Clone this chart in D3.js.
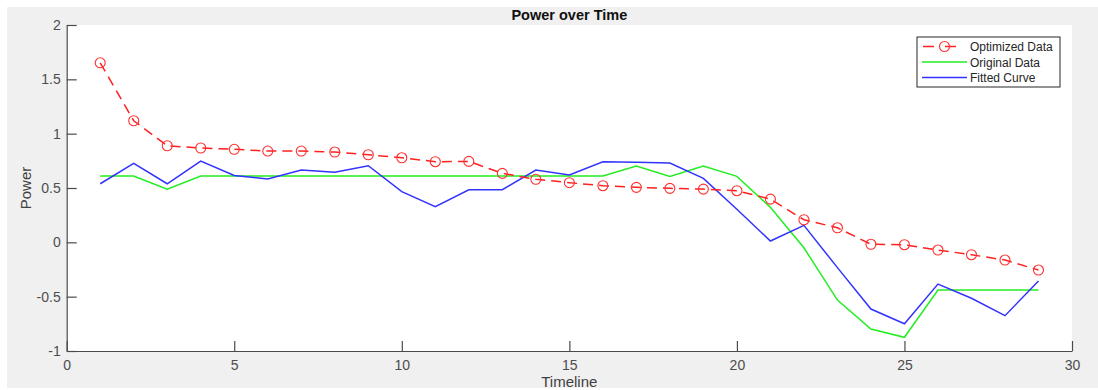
<!DOCTYPE html>
<html>
<head>
<meta charset="utf-8">
<script src="https://cdn.jsdelivr.net/npm/d3@7"></script>
<style>
  html, body { margin: 0; padding: 0; background: #fff; }
  svg { display: block; font-family: "Liberation Sans", Arial, sans-serif; }
</style>
</head>
<body>
<div id="chart"></div>
<script>
const timeline = d3.range(1, 30);
const optimized = [1.652, 1.119, 0.889, 0.868, 0.856, 0.840, 0.840, 0.831, 0.806, 0.778,
  0.742, 0.745, 0.635, 0.580, 0.549, 0.521, 0.506, 0.497, 0.490, 0.475,
  0.398, 0.208, 0.134, -0.018, -0.022, -0.071, -0.114, -0.163, -0.255];
const original = [0.61, 0.61, 0.488, 0.61, 0.61, 0.61, 0.61, 0.61, 0.61, 0.61,
  0.61, 0.61, 0.61, 0.61, 0.61, 0.61, 0.702, 0.607, 0.702, 0.607,
  0.322, -0.05, -0.531, -0.798, -0.874, -0.439, -0.439, -0.439, -0.439];
const fitted = [0.539, 0.727, 0.539, 0.748, 0.616, 0.582, 0.665, 0.644, 0.705, 0.466,
  0.328, 0.484, 0.484, 0.665, 0.619, 0.742, 0.736, 0.730, 0.589, 0.304,
  0.012, 0.156, -0.233, -0.614, -0.749, -0.384, -0.515, -0.675, -0.356];
const xTicks = [0, 5, 10, 15, 20, 25, 30];
const yTicks = [-1, -0.5, 0, 0.5, 1, 1.5, 2];
const seriesNames = ['Optimized Data', 'Original Data', 'Fitted Curve'];

const width = 1098, height = 390;
const margin = { left: 66.7, right: 1072, top: 25, bottom: 351 };

const svg = d3.select('#chart').append('svg')
  .attr('width', width)
  .attr('height', height);

// figure background
svg.append('rect')
  .attr('x', 7).attr('y', 7)
  .attr('width', width - 7).attr('height', 381)
  .attr('fill', '#f0f0f0');

svg.append('rect')
  .attr('x', margin.left).attr('y', margin.top)
  .attr('width', margin.right - margin.left)
  .attr('height', margin.bottom - margin.top)
  .attr('fill', '#fff');

const x = d3.scaleLinear().domain([0, 30]).range([margin.left, margin.right]);
const y = d3.scaleLinear().domain([-1, 2]).range([margin.bottom, margin.top]);

const axisColor = '#4a4a4a';
const plainFmt = d => String(d);

const xAxis = svg.append('g')
  .attr('transform', `translate(0,${margin.bottom})`)
  .call(d3.axisBottom(x).tickValues(xTicks).tickSizeInner(-10).tickSizeOuter(0).tickPadding(9).tickFormat(plainFmt));
const yAxis = svg.append('g')
  .attr('transform', `translate(${margin.left},0)`)
  .call(d3.axisLeft(y).tickValues(yTicks).tickSizeInner(-10).tickSizeOuter(0).tickPadding(6).tickFormat(plainFmt));

[xAxis, yAxis].forEach(g => {
  g.select('.domain').attr('stroke', axisColor).attr('stroke-width', 1.2);
  g.selectAll('.tick line').attr('stroke', axisColor).attr('stroke-width', 1.2);
  g.selectAll('.tick text')
    .attr('fill', '#4d4d4d')
    .style('font-size', '14px')
    .style('font-family', '"Liberation Sans", Arial, sans-serif');
});

// axis labels and title
svg.append('text')
  .attr('x', (margin.left + margin.right) / 2).attr('y', 387)
  .attr('text-anchor', 'middle')
  .attr('fill', '#404040')
  .style('font-size', '15px')
  .text('Timeline');

svg.append('text')
  .attr('transform', `translate(31,${(margin.top + margin.bottom) / 2}) rotate(-90)`)
  .attr('text-anchor', 'middle')
  .attr('fill', '#404040')
  .style('font-size', '15px')
  .text('Power');

svg.append('text')
  .attr('x', (margin.left + margin.right) / 2).attr('y', 20)
  .attr('text-anchor', 'middle')
  .attr('fill', '#111')
  .style('font-size', '14.5px')
  .style('font-weight', 'bold')
  .text('Power over Time');

const line = d3.line().x((d, i) => x(timeline[i])).y(d => y(d));

const plot = svg.append('g');

plot.append('path')
  .datum(original)
  .attr('fill', 'none')
  .attr('stroke', '#22ee22')
  .attr('stroke-width', 1.5)
  .attr('d', line);

plot.append('path')
  .datum(fitted)
  .attr('fill', 'none')
  .attr('stroke', '#3333ff')
  .attr('stroke-width', 1.5)
  .attr('d', line);

plot.append('path')
  .datum(optimized)
  .attr('fill', 'none')
  .attr('stroke', '#ff2020')
  .attr('stroke-width', 1.5)
  .attr('stroke-dasharray', '10,6')
  .attr('d', line);

plot.selectAll('circle.opt')
  .data(optimized)
  .join('circle')
  .attr('class', 'opt')
  .attr('cx', (d, i) => x(timeline[i]))
  .attr('cy', d => y(d))
  .attr('r', 5)
  .attr('fill', 'none')
  .attr('stroke', '#ff3030')
  .attr('stroke-width', 1.1);

// legend
const legend = svg.append('g').attr('transform', 'translate(917,37)');
legend.append('rect')
  .attr('width', 143).attr('height', 50)
  .attr('fill', '#fff')
  .attr('stroke', '#262626')
  .attr('stroke-width', 1);

const colors = ['#ff2020', '#22ee22', '#3333ff'];
seriesNames.forEach((name, i) => {
  const cy = 9.5 + i * 15.5;
  const l = legend.append('line')
    .attr('x1', 5).attr('x2', 50)
    .attr('y1', cy).attr('y2', cy)
    .attr('stroke', colors[i])
    .attr('stroke-width', 1.5);
  if (i === 0) {
    l.attr('stroke-dasharray', '11,11').attr('stroke-dashoffset', -1);
    legend.append('circle')
      .attr('cx', 27.5).attr('cy', cy).attr('r', 5)
      .attr('fill', 'none').attr('stroke', '#ff3030').attr('stroke-width', 1.1);
  }
  legend.append('text')
    .attr('x', 53).attr('y', cy + 4.5)
    .attr('fill', '#262626')
    .style('font-size', '12px')
    .text(name);
});
</script>
</body>
</html>
